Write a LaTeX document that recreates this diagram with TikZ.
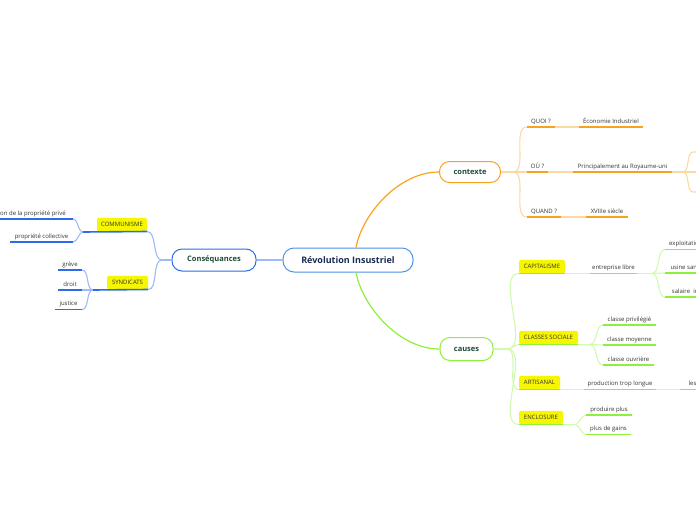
\documentclass[tikz,border=0pt]{standalone}
\usepackage{fontspec}
\setmainfont{Open Sans}
\definecolor{txt}{HTML}{333333}
\definecolor{oD}{HTML}{F8A21F}
\definecolor{oL}{HTML}{FCD9A3}
\definecolor{gD}{HTML}{8EF03A}
\definecolor{gL}{HTML}{D2F9B0}
\definecolor{bD}{HTML}{2D6BEA}
\definecolor{bL}{HTML}{9DBBF6}
\definecolor{bC}{HTML}{4F94E4}
\definecolor{ylw}{HTML}{F6F600}
\definecolor{navyT}{HTML}{1B2B52}
\definecolor{tealT}{HTML}{1E4A3B}
\begin{document}
\begin{tikzpicture}[x=1pt,y=-1pt,
  every node/.style={font=\fontsize{6}{7}\selectfont, text=txt},
  leaf/.style={anchor=south, inner xsep=0pt, inner ysep=2.5pt, text height=4.5pt, text depth=1.3pt},
  leafR/.style={leaf, anchor=south west, inner xsep=4pt, align=left},
  leafL/.style={leaf, anchor=south east, inner xsep=7pt},
  tag/.style={anchor=south, fill=ylw, rounded corners=1.5pt, inner xsep=0pt, inner ysep=0pt, minimum height=13.5pt, text height=4.5pt, text depth=1.3pt},
  mainbox/.style={draw=bC, fill=white, rounded corners=11pt, line width=1pt, minimum width=130pt, minimum height=24pt, inner sep=0pt, font=\fontsize{9}{11}\selectfont\bfseries, text=navyT},
  branch/.style={fill=white, rounded corners=10pt, line width=1pt, inner sep=0pt, font=\fontsize{7.5}{9}\selectfont\bfseries, text=tealT},
  ulO/.style={oD, line width=1.6pt}, lnO/.style={oL, line width=1.1pt},
  ulG/.style={gD, line width=1.6pt}, lnG/.style={gL, line width=1.1pt},
  ulB/.style={bD, line width=1.6pt}, lnB/.style={bL, line width=1.1pt},
  sc/.style={out=0, in=180, looseness=0.8},
  scL/.style={out=180, in=0, looseness=0.8}
]
\useasboundingbox (0,0) rectangle (696,520);

% ---------------- nodes ----------------
\node[mainbox] (cR) at (348,260) {Révolution Insustriel};
\node[branch, draw=bD, minimum width=84pt, minimum height=22pt] (cC) at (214,260) {Conséquances};
\node[branch, draw=oD, minimum width=61pt, minimum height=21pt] (cX) at (470,172) {contexte};
\node[branch, draw=gD, minimum width=53pt, minimum height=23pt] (cA) at (466.5,349) {causes};

% contexte
\coordinate (xS) at (513,172);
\node[leaf, minimum width=28pt] (quoi) at (541,127) {QUOI ?};
\node[leaf, minimum width=64pt] (eco) at (611,127) {Économie Industriel};
\node[leaf, minimum width=21pt] (ou) at (537.5,172) {OÙ ?};
\node[leaf, minimum width=99pt] (princ) at (622.5,172) {Principalement au Royaume-uni};
\coordinate (ouS) at (683,172);
\coordinate (r1) at (693,152);
\coordinate (r1e) at (700,152);
\coordinate (r2e) at (700,172);
\coordinate (r3) at (693,192);
\coordinate (r3e) at (700,192);
\node[leaf, minimum width=34pt] (quand) at (544,217) {QUAND ?};
\node[leaf, minimum width=42pt] (xviii) at (607,217) {XVIIIe siècle};

% causes
\coordinate (aS) at (507,349);
\node[tag, minimum width=46pt] (cap) at (542,273.5) {CAPITALISME};
\node[tag, minimum width=59pt] (cls) at (548.5,344.5) {CLASSES SOCIALE};
\node[tag, minimum width=41pt] (art) at (539.5,389.5) {ARTISANAL};
\node[tag, minimum width=44pt] (enc) at (541,424.5) {ENCLOSURE};

\node[leaf, minimum width=47pt] (entr) at (613.5,273.5) {entreprise libre};
\coordinate (capS) at (652,273.5);
\node[leafR, minimum width=40pt] (expl) at (665,249.5) {exploitation};
\node[leafR, minimum width=40pt] (usine) at (665,273) {usine sans};
\node[leafR, minimum width=40pt] (sal) at (665,297) {salaire\ \ in};

\coordinate (clsS) at (590,344.5);
\node[leaf, minimum width=53pt] (priv) at (629.5,325) {classe privilégié};
\node[leaf, minimum width=53pt] (moy) at (629.5,345) {classe moyenne};
\node[leaf, minimum width=51pt] (ouv) at (628.5,365) {classe ouvrière};

\node[leaf, minimum width=72pt] (prod) at (620,389.5) {production trop longue};
\node[leafR, minimum width=30pt] (lesu) at (680,389.5) {les u};

\coordinate (encS) at (575,424.5);
\node[leaf, minimum width=46pt] (plus) at (609,415) {produire plus};
\node[leaf, minimum width=45pt] (gains) at (608.5,434.5) {plus de gains};

% conséquances
\coordinate (cS) at (162,260);
\node[tag, minimum width=50pt] (com) at (122,231.5) {COMMUNISME};
\node[tag, minimum width=41pt] (syn) at (127.5,289.5) {SYNDICATS};
\coordinate (comS) at (83,232);
\coordinate (synS) at (93,290);
\node[leafL, minimum width=90pt] (abol) at (73,219) {abolition de la propriété privé};
\node[leaf, minimum width=63pt] (coll) at (41.5,242) {propriété collective};
\node[leaf, minimum width=24pt] (greve) at (70,270) {grève};
\node[leaf, minimum width=24pt] (droit) at (70,290) {droit};
\node[leaf, minimum width=27pt] (just) at (68.5,309.5) {justice};

% ---------------- main connectors ----------------
\draw[bL, line width=1.2pt] (cR.west) -- (cC.east);
\draw[oD, line width=1.2pt] ([xshift=8pt]cR.north) .. controls (362,215) and (398,172) .. (cX.west);
\draw[gD, line width=1.2pt] ([xshift=8pt]cR.south) .. controls (362,305) and (398,349) .. (cA.west);

% ---------------- contexte ----------------
\draw[lnO] (cX.east) -- (xS);
\draw[lnO] (xS) to[sc] (quoi.south west);
\draw[lnO] (xS) -- (ou.south west);
\draw[lnO] (xS) to[sc] (quand.south west);
\draw[lnO] (quoi.south east) -- (eco.south west);
\draw[lnO] (ou.south east) -- (princ.south west);
\draw[lnO] (quand.south east) -- (xviii.south west);
\draw[lnO] (princ.south east) -- (ouS);
\draw[lnO] (ouS) to[sc] (r1) -- (r1e);
\draw[lnO] (ouS) -- (r2e);
\draw[lnO] (ouS) to[sc] (r3) -- (r3e);
\foreach \n in {quoi,eco,ou,princ,quand,xviii}
  \draw[ulO] (\n.south west) -- (\n.south east);

% ---------------- causes ----------------
\draw[lnG] (cA.east) -- (aS);
\draw[lnG] (aS) to[sc] (cap.south west);
\draw[lnG] (aS) to[sc] (cls.south west);
\draw[lnG] (aS) to[sc] (art.south west);
\draw[lnG] (aS) to[sc] (enc.south west);
\draw[lnG] (cap.south east) -- (entr.south west);
\draw[lnG] (entr.south east) -- (capS);
\draw[lnG] (capS) to[sc] (expl.south west);
\draw[lnG] (capS) to[sc] (usine.south west);
\draw[lnG] (capS) to[sc] (sal.south west);
\draw[lnG] (cls.south east) -- (clsS);
\draw[lnG] (clsS) to[sc] (priv.south west);
\draw[lnG] (clsS) to[sc] (moy.south west);
\draw[lnG] (clsS) to[sc] (ouv.south west);
\draw[lnG] (art.south east) -- (prod.south west);
\draw[lnG] (prod.south east) -- (lesu.south west);
\draw[lnG] (enc.south east) -- (encS);
\draw[lnG] (encS) to[sc] (plus.south west);
\draw[lnG] (encS) to[sc] (gains.south west);
\foreach \n in {cap,cls,art,enc,entr,expl,usine,sal,priv,moy,ouv,prod,lesu,plus,gains}
  \draw[ulG] (\n.south west) -- (\n.south east);

% ---------------- conséquances ----------------
\draw[lnB] (cC.west) -- (cS);
\draw[lnB] (cS) to[scL] (com.south east);
\draw[lnB] (cS) to[scL] (syn.south east);
\draw[lnB] (comS) to[scL] (abol.south east);
\draw[lnB] (comS) to[scL] (coll.south east);
\draw[lnB] (synS) to[scL] (greve.south east);
\draw[lnB] (synS) -- (droit.south east);
\draw[lnB] (synS) to[scL] (just.south east);
\draw[ulB] (comS) -- (com.south east);
\draw[ulB] (synS) -- (syn.south east);
\foreach \n in {abol,coll,greve,droit,just}
  \draw[ulB] (\n.south west) -- (\n.south east);
\end{tikzpicture}
\end{document}
